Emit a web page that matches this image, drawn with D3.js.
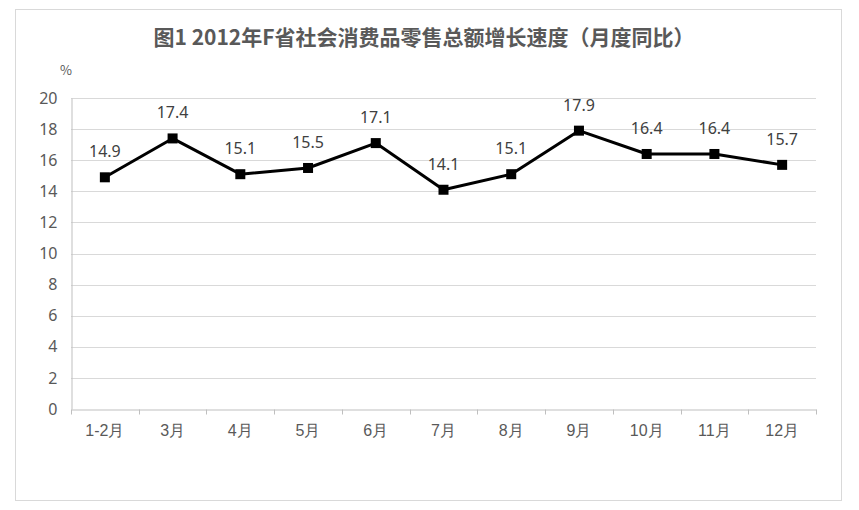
<!DOCTYPE html>
<html><head><meta charset="utf-8">
<script src="https://cdn.jsdelivr.net/npm/d3@7"></script>
<style>body{margin:0;background:#fff;}svg{display:block;font-family:"Noto Sans CJK SC","Noto Sans",sans-serif;}</style>
</head><body><svg id="c" width="859" height="510"></svg>
<script>
const categories = ["1-2月","3月","4月","5月","6月","7月","8月","9月","10月","11月","12月"];
const values = [14.9,17.4,15.1,15.5,17.1,14.1,15.1,17.9,16.4,16.4,15.7];
const yTicks = [0,2,4,6,8,10,12,14,16,18,20];
const title = "图1 2012年F省社会消费品零售总额增长速度（月度同比）";
const unit = "%";

const svg = d3.select("#c");
const m = {l:71, r:816, t:98, b:409};
svg.append("rect").attr("x",15.5).attr("y",9.5).attr("width",826).attr("height",491)
  .attr("fill","#fff").attr("stroke","#d9d9d9");
const x = d3.scaleBand().domain(categories).range([m.l,m.r]);
const y = d3.scaleLinear().domain([0,20]).range([m.b,m.t]);

svg.append("text").attr("x",424).attr("y",45).attr("text-anchor","middle")
  .attr("font-size",21).attr("font-weight","bold").attr("fill","#595959").text(title);
svg.append("text").attr("x",66).attr("y",75).attr("text-anchor","middle")
  .attr("font-size",13).attr("fill","#595959").text(unit);

// gridlines
svg.append("g").selectAll("line").data(yTicks.filter(d=>d>0)).join("line")
  .attr("x1",m.l).attr("x2",m.r).attr("y1",d=>Math.round(y(d))+0.5).attr("y2",d=>Math.round(y(d))+0.5)
  .attr("stroke","#d9d9d9");

// y axis
const ya = svg.append("g").attr("transform",`translate(${m.l+0.5},0)`)
  .call(d3.axisLeft(y).tickValues(yTicks).tickSize(0).tickPadding(14));
ya.select(".domain").attr("stroke","#bfbfbf");
ya.selectAll("text").attr("font-size",16).attr("fill","#595959").attr("font-family","Noto Sans, sans-serif");

// x axis
const xa = svg.append("g").attr("transform",`translate(0,${Math.round(m.b)+0.5})`)
  .call(d3.axisBottom(x).tickSize(0).tickPadding(15));
xa.select(".domain").attr("stroke","#bfbfbf");
xa.selectAll("text").attr("font-size",16).attr("fill","#595959");
const bounds = categories.map(c=>x(c)).concat([m.r]);
xa.selectAll("line.b").data(bounds).join("line").attr("class","b")
  .attr("x1",d=>Math.round(d)+0.5).attr("x2",d=>Math.round(d)+0.5).attr("y1",0).attr("y2",5).attr("stroke","#bfbfbf");

const cx = c => x(c)+x.bandwidth()/2;
const line = d3.line().x((d,i)=>cx(categories[i])).y(d=>y(d));
svg.append("path").datum(values).attr("d",line).attr("fill","none").attr("stroke","#000").attr("stroke-width",3).attr("stroke-linejoin","round");
svg.append("g").selectAll("rect").data(values).join("rect")
  .attr("x",(d,i)=>cx(categories[i])-5).attr("y",d=>y(d)-5).attr("width",10).attr("height",10).attr("fill","#000");
svg.append("g").selectAll("text").data(values).join("text")
  .attr("x",(d,i)=>cx(categories[i])).attr("y",d=>y(d)-20).attr("text-anchor","middle")
  .attr("font-size",16).attr("fill","#404040").attr("font-family","Noto Sans, sans-serif").text(d=>d.toFixed(1));
</script></body></html>
